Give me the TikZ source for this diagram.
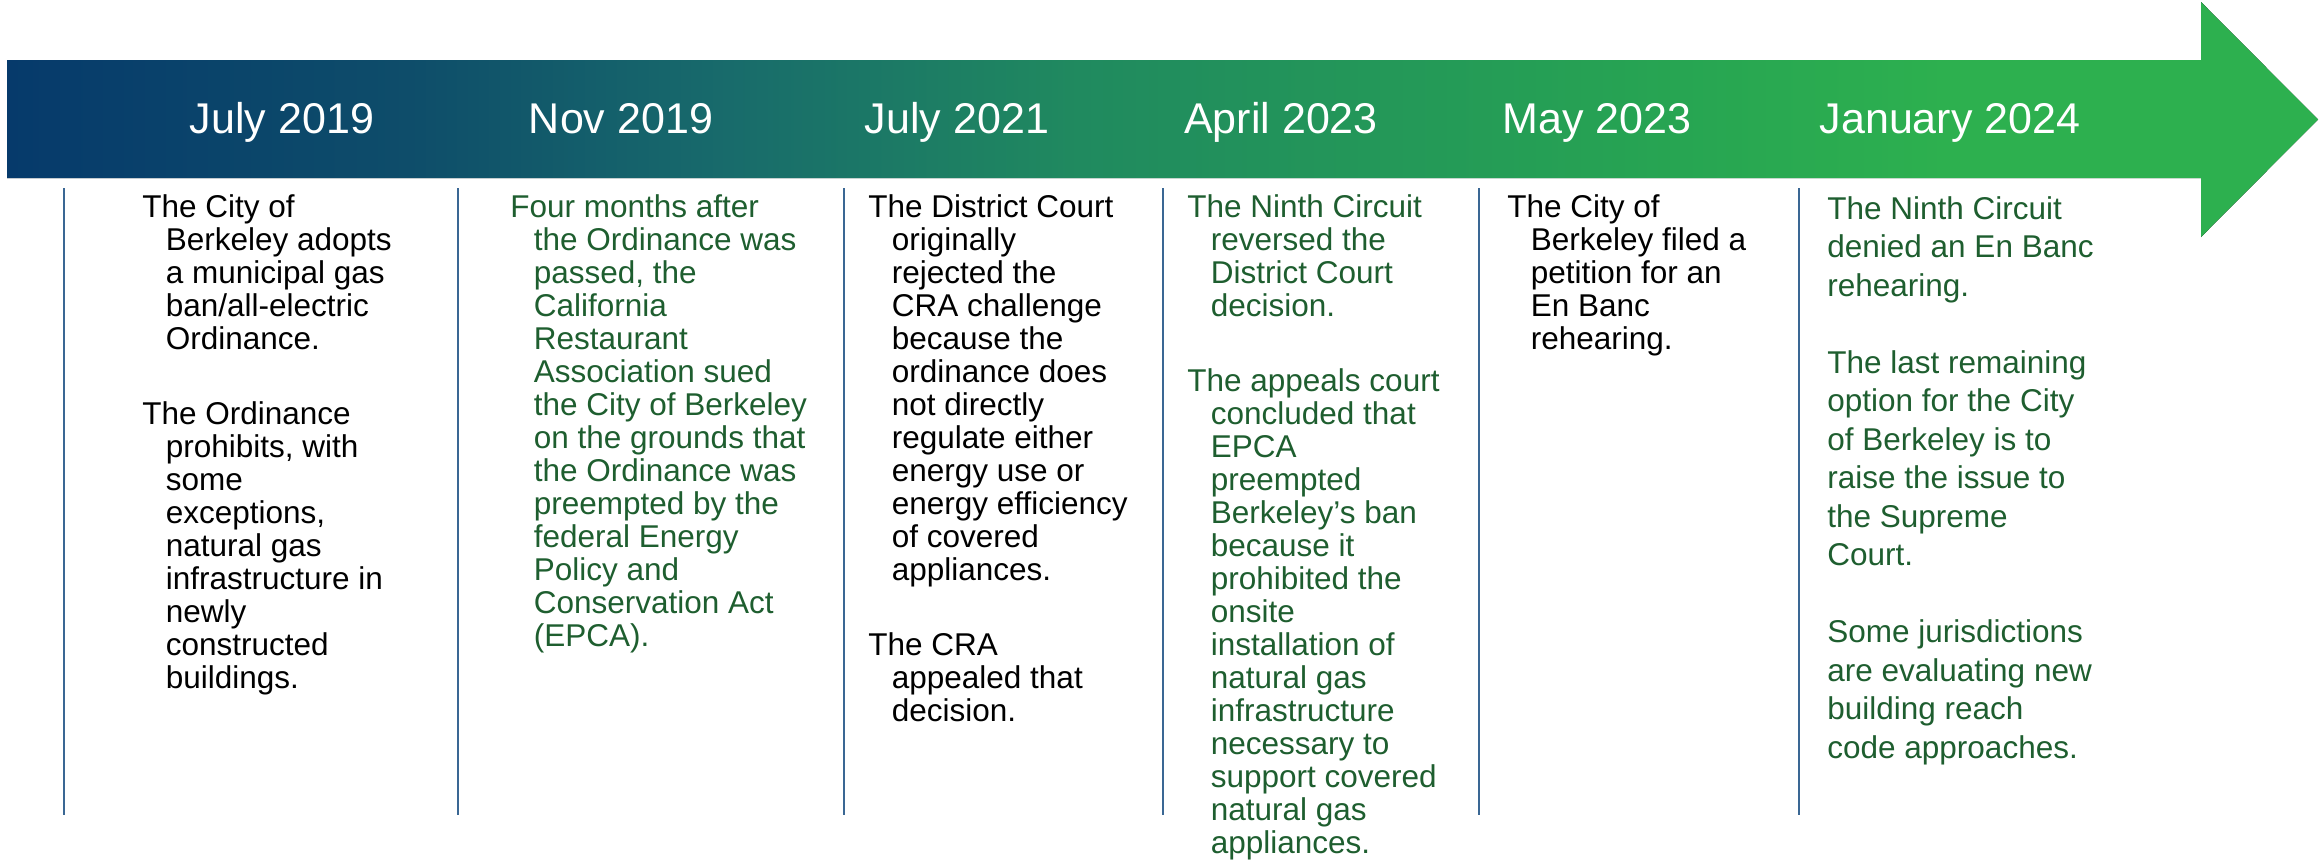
\documentclass[tikz,border=0pt]{standalone}
\usepackage{fontspec}
\setmainfont{Liberation Sans}
\definecolor{tlblue}{HTML}{063A6B}
\definecolor{tlstepa}{HTML}{0E4D6A}
\definecolor{tlstepb}{HTML}{186B6B}
\definecolor{tlstepc}{HTML}{208A5F}
\definecolor{tlstepd}{HTML}{27A552}
\definecolor{tlgreen}{HTML}{2DB04F}
\definecolor{notegreen}{HTML}{1E5E2F}
\definecolor{rulecol}{HTML}{3A6794}
% left-to-right fill of the timeline bar: the 25bp..75bp band spans the path
\pgfdeclarehorizontalshading{timeline}{100bp}{color(0bp)=(tlblue); color(25bp)=(tlblue);
  color(33.7bp)=(tlstepa); color(40.6bp)=(tlstepb); color(48.2bp)=(tlstepc);
  color(61.2bp)=(tlstepd); color(67bp)=(tlgreen); color(100bp)=(tlgreen)}
% line break followed by the hanging indent of a paragraph
\newcommand\hl{\\\hspace*{11.75pt}}
\newcommand\notebox[1]{\parbox[t]{170pt}{\raggedright #1}}
\begin{document}
\begin{tikzpicture}[x=0.5pt,y=-0.5pt,
  date/.style={text=white,font=\fontsize{21.5pt}{26pt}\selectfont,anchor=base,inner sep=0pt},
  note/.style={anchor=base west,inner sep=0pt,font=\fontsize{15.75pt}{16.5pt}\selectfont},
  widenote/.style={note,font=\fontsize{15.75pt}{19.25pt}\selectfont},
  sepline/.style={draw=rulecol,line width=0.8pt}]
\useasboundingbox (0,0) rectangle (2323,867);

% timeline arrow
\fill[shading=timeline] (7,60) -- (2201,60) -- (2201,2) -- (2318,119.5)
  -- (2201,237) -- (2201,178) -- (7,178) -- cycle;

% dates on the bar
\node[date] (d1) at (282,133) {July 2019};
\node[date] (d2) at (621,133) {Nov 2019};
\node[date] (d3) at (957,133) {July 2021};
\node[date] (d4) at (1281,133) {April 2023};
\node[date] (d5) at (1597,133) {May 2023};
\node[date] (d6) at (1950,133) {January 2024};

% column separators
\foreach \x in {64,458,844,1163,1479,1799}
  \draw[sepline] (\x,188) -- (\x,815);

% event descriptions
\node[note,text=black] (n1) at (142,217) {\notebox{%
The City of\hl Berkeley adopts\hl a municipal gas\hl ban/all-electric\hl Ordinance.\\[21pt]%
The Ordinance\hl prohibits, with\hl some\hl exceptions,\hl natural gas\hl infrastructure in\hl newly\hl constructed\hl buildings.}};

\node[note,text=notegreen] (n2) at (510,217) {\notebox{%
Four months after\hl the Ordinance was\hl passed, the\hl California\hl Restaurant\hl Association sued\hl the City of Berkeley\hl on the grounds that\hl the Ordinance was\hl preempted by the\hl federal Energy\hl Policy and\hl Conservation Act\hl (EPCA).}};

\node[note,text=black] (n3) at (868,217) {\notebox{%
The District Court\hl originally\hl rejected the\hl CRA challenge\hl because the\hl ordinance does\hl not directly\hl regulate either\hl energy use or\hl energy efficiency\hl of covered\hl appliances.\\[21pt]%
The CRA\hl appealed that\hl decision.}};

\node[note,text=notegreen] (n4) at (1187,217) {\notebox{%
The Ninth Circuit\hl reversed the\hl District Court\hl decision.\\[21pt]%
The appeals court\hl concluded that\hl EPCA\hl preempted\hl Berkeley’s ban\hl because it\hl prohibited the\hl onsite\hl installation of\hl natural gas\hl infrastructure\hl necessary to\hl support covered\hl natural gas\hl appliances.}};

\node[note,text=black] (n5) at (1507,217) {\notebox{%
The City of\hl Berkeley filed a\hl petition for an\hl En Banc\hl rehearing.}};

\node[widenote,text=notegreen] (n6) at (1827,219) {\notebox{%
The Ninth Circuit\\ denied an En Banc\\ rehearing.\\[19.25pt]%
The last remaining\\ option for the City\\ of Berkeley is to\\ raise the issue to\\ the Supreme\\ Court.\\[19.25pt]%
Some jurisdictions\\ are evaluating new\\ building reach\\ code approaches.}};
\end{tikzpicture}
\end{document}
